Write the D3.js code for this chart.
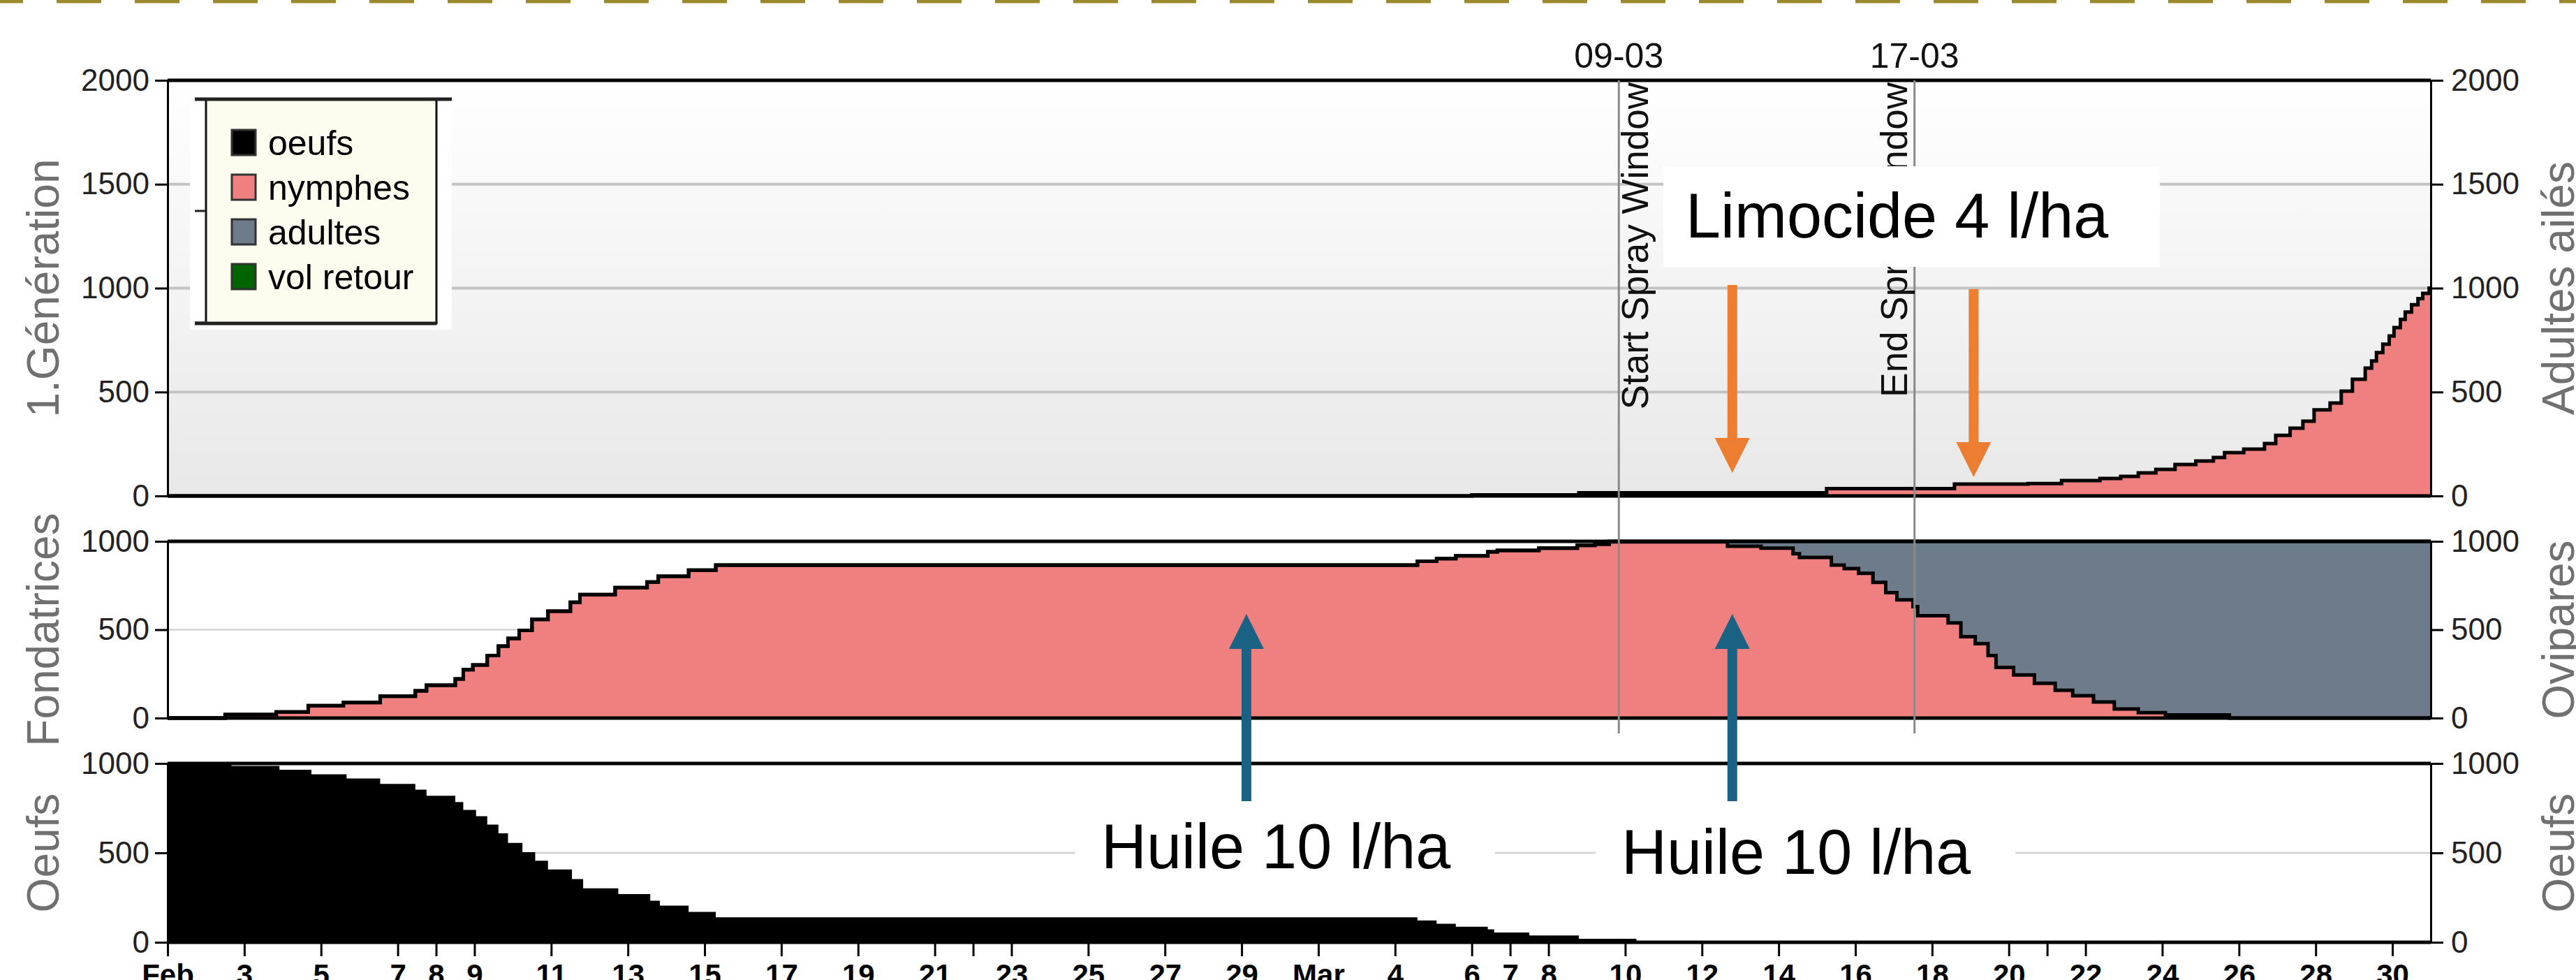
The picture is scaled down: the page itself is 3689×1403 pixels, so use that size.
<!DOCTYPE html>
<html>
<head>
<meta charset="utf-8">
<script src="https://cdn.jsdelivr.net/npm/d3@7"></script>
<style>
  html, body { margin: 0; padding: 0; background: #fff; }
  svg { display: block; }
</style>
</head>
<body>
<svg id="chart" width="3689" height="1403"></svg>
<script>
// ---------------------------------------------------------------
// Aphid development model, Feb–Mar 2024
// ---------------------------------------------------------------

// Eggs still to hatch (bottom panel)
const eggTimes = [
  "2024-02-01 00:00","2024-02-02 16:00","2024-02-03 22:00","2024-02-04 18:00","2024-02-05 16:00",
  "2024-02-06 13:00","2024-02-07 11:00","2024-02-07 18:00","2024-02-08 12:00","2024-02-08 17:00",
  "2024-02-09 01:00","2024-02-09 08:00","2024-02-09 15:00","2024-02-09 21:00","2024-02-10 06:00",
  "2024-02-10 14:00","2024-02-10 22:00","2024-02-11 13:00","2024-02-11 20:00","2024-02-12 18:00",
  "2024-02-13 14:00","2024-02-13 20:00","2024-02-14 14:00","2024-02-15 07:00","2024-03-04 14:00",
  "2024-03-05 02:00","2024-03-05 14:00","2024-03-06 10:00","2024-03-06 14:00","2024-03-07 12:00",
  "2024-03-08 19:00","2024-03-10 07:00","2024-03-13 00:00","2024-03-31 00:00"
];
const eggValues = [
  1000, 986, 965, 939, 916,
  886, 854, 819, 784, 740,
  705, 658, 609, 556, 504,
  456, 407, 354, 302, 270,
  232, 205, 170, 140, 122,
  104, 87, 72, 55, 38,
  20, 7, 0, 0
];

// Fondatrices: nymphs (lower band) and adults (upper band)
const fondTimes = [
  "2024-02-01 00:00","2024-02-02 12:00","2024-02-03 20:00","2024-02-04 16:00","2024-02-05 14:00",
  "2024-02-06 13:00","2024-02-07 11:00","2024-02-07 18:00","2024-02-08 12:00","2024-02-08 17:00",
  "2024-02-08 23:00","2024-02-09 08:00","2024-02-09 15:00","2024-02-09 21:00","2024-02-10 04:00",
  "2024-02-10 12:00","2024-02-10 22:00","2024-02-11 12:00","2024-02-11 18:00","2024-02-12 16:00",
  "2024-02-13 12:00","2024-02-13 19:00","2024-02-14 14:00","2024-02-15 07:00","2024-03-04 14:00",
  "2024-03-05 02:00","2024-03-05 14:00","2024-03-06 10:00","2024-03-06 16:00","2024-03-07 18:00",
  "2024-03-08 18:00","2024-03-09 05:00","2024-03-09 14:00","2024-03-12 16:00","2024-03-13 13:00",
  "2024-03-14 09:00","2024-03-14 13:00","2024-03-15 09:00","2024-03-15 17:00","2024-03-16 02:00",
  "2024-03-16 11:00","2024-03-16 19:00","2024-03-17 02:00","2024-03-17 12:00","2024-03-17 15:00",
  "2024-03-18 10:00","2024-03-18 18:00","2024-03-19 03:00","2024-03-19 11:00","2024-03-19 16:00",
  "2024-03-20 03:00","2024-03-20 16:00","2024-03-21 05:00","2024-03-21 16:00","2024-03-22 05:00",
  "2024-03-22 18:00","2024-03-23 09:00","2024-03-24 02:00","2024-03-25 18:00","2024-03-31 00:00"
];
const fondNymphes = [
  0, 20, 35, 70, 88,
  124, 154, 186, 221, 274,
  300, 354, 407, 451, 496,
  558, 605, 655, 699, 738,
  770, 802, 837, 866, 887,
  902, 918, 941, 949, 961,
  977, 984, 997, 972, 961,
  930, 909, 866, 846, 819,
  768, 709, 669, 630, 579,
  539, 460, 421, 354, 287,
  244, 197, 157, 126, 91,
  51, 31, 18, 0, 0
];
const fondAdultes = [
  0, 0, 0, 0, 0,
  0, 0, 0, 0, 0,
  0, 0, 0, 0, 0,
  0, 0, 0, 0, 0,
  0, 0, 0, 0, 0,
  0, 0, 0, 0, 0,
  0, 0, 3, 28, 39,
  70, 91, 134, 154, 181,
  232, 291, 331, 370, 421,
  461, 540, 579, 646, 713,
  756, 803, 843, 874, 909,
  949, 969, 982, 1000, 1000
];

// First generation nymphs (top panel)
const genTimes = [
  "2024-02-01 00:00","2024-03-06 00:00","2024-03-08 19:00","2024-03-15 06:00","2024-03-18 14:00",
  "2024-03-20 12:00","2024-03-21 09:00","2024-03-22 09:00","2024-03-22 22:00","2024-03-23 09:00",
  "2024-03-23 20:00","2024-03-24 08:00","2024-03-24 21:00","2024-03-25 08:00","2024-03-25 15:00",
  "2024-03-26 03:00","2024-03-26 16:00","2024-03-26 23:00","2024-03-27 08:00","2024-03-27 16:00",
  "2024-03-27 23:00","2024-03-28 09:00","2024-03-28 16:00","2024-03-28 23:00","2024-03-29 07:00",
  "2024-03-29 11:00","2024-03-29 14:00","2024-03-29 18:00","2024-03-29 22:00","2024-03-30 01:00",
  "2024-03-30 05:00","2024-03-30 08:00","2024-03-30 12:00","2024-03-30 16:00","2024-03-30 19:00",
  "2024-03-30 23:00","2024-03-31 00:00"
];
const genNymphes = [
  0, 5, 15, 35, 57,
  60, 74, 84, 94, 111,
  128, 151, 168, 185, 208,
  225, 252, 292, 326, 360,
  414, 447, 504, 561, 615,
  650, 690, 730, 770, 810,
  850, 885, 920, 950, 975,
  1000, 1000
];

// Date axis
const tickDates = [
  "2024-02-01 00:00","2024-02-03 00:00","2024-02-05 00:00","2024-02-07 00:00","2024-02-08 00:00",
  "2024-02-09 00:00","2024-02-11 00:00","2024-02-13 00:00","2024-02-15 00:00","2024-02-17 00:00",
  "2024-02-19 00:00","2024-02-21 00:00","2024-02-22 00:00","2024-02-23 00:00","2024-02-25 00:00",
  "2024-02-27 00:00","2024-02-29 00:00","2024-03-02 00:00","2024-03-04 00:00","2024-03-06 00:00",
  "2024-03-07 00:00","2024-03-08 00:00","2024-03-10 00:00","2024-03-12 00:00","2024-03-14 00:00",
  "2024-03-16 00:00","2024-03-18 00:00","2024-03-20 00:00","2024-03-21 00:00","2024-03-22 00:00",
  "2024-03-24 00:00","2024-03-26 00:00","2024-03-28 00:00","2024-03-30 00:00"
];
const tickLabels = [
  "Feb","3","5","7","8",
  "9","11","13","15","17",
  "19","21","","23","25",
  "27","29","Mar","4","6",
  "7","8","10","12","14",
  "16","18","20","","22",
  "24","26","28","30"
];
const topTicks = [0, 500, 1000, 1500, 2000];
const panelTicks = [0, 500, 1000];

const legendLabels = ["oeufs", "nymphes", "adultes", "vol retour"];
const legendColors = ["#000000", "#f08080", "#6e7b8b", "#006400"];

const sprayDates = ["2024-03-09 20:00", "2024-03-17 13:00"];
const sprayDateLabels = ["09-03", "17-03"];
const sprayTexts = ["Start Spray Window", "End Spray Window"];

const oilDates = ["2024-02-29 03:00", "2024-03-12 19:00"];
const oilLabel = "Huile 10 l/ha";
const limocideDates = ["2024-03-12 19:00", "2024-03-19 02:00"];
const limocideLabel = "Limocide 4 l/ha";

// ---------------------------------------------------------------
const parse = d3.timeParse("%Y-%m-%d %H:%M");
const svg = d3.select("#chart");
const FONT = "'Liberation Sans', Arial, sans-serif";

const x = d3.scaleTime()
  .domain([parse("2024-02-01 00:00"), parse("2024-03-31 00:00")])
  .range([240, 3481]);
const X0 = x.range()[0], X1 = x.range()[1];

const yTop = d3.scaleLinear().domain([0, 2000]).range([710, 115]);
const yMid = d3.scaleLinear().domain([0, 1000]).range([1028, 775]);
const yBot = d3.scaleLinear().domain([0, 1000]).range([1349, 1093]);

const eggs = eggTimes.map((t, i) => ({ t: parse(t), v: eggValues[i] }));
const fond = fondTimes.map((t, i) => ({ t: parse(t), n: fondNymphes[i], a: fondAdultes[i] }));
const gen = genTimes.map((t, i) => ({ t: parse(t), v: genNymphes[i] }));

// top strip of dashes
svg.append("line")
  .attr("x1", 0).attr("x2", 3689).attr("y1", 2.2).attr("y2", 2.2)
  .attr("stroke", "#9a8a2c").attr("stroke-width", 4.5)
  .attr("stroke-dasharray", "64 48").attr("stroke-dashoffset", -81);

// background gradient for the generation panel
const defs = svg.append("defs");
const grad = defs.append("linearGradient").attr("id", "bgTop")
  .attr("x1", 0).attr("x2", 0).attr("y1", 0).attr("y2", 1);
grad.append("stop").attr("offset", "0%").attr("stop-color", "#ffffff");
grad.append("stop").attr("offset", "100%").attr("stop-color", "#e8e8e8");

svg.append("rect")
  .attr("x", X0).attr("y", yTop(2000))
  .attr("width", X1 - X0).attr("height", yTop(0) - yTop(2000))
  .attr("fill", "url(#bgTop)");

// grid lines
svg.append("g").selectAll("line").data([500, 1000, 1500]).join("line")
  .attr("x1", X0).attr("x2", X1)
  .attr("y1", d => yTop(d)).attr("y2", d => yTop(d))
  .attr("stroke", "#c4c4c4").attr("stroke-width", 4);
[yMid, yBot].forEach(s => {
  svg.append("line")
    .attr("x1", X0).attr("x2", X1).attr("y1", s(500)).attr("y2", s(500))
    .attr("stroke", "#d2d2d2").attr("stroke-width", 2.5);
});

// ---- series
const step = d3.curveStepAfter;

// top: first generation nymphs
svg.append("path").datum(gen)
  .attr("fill", "#f08080")
  .attr("d", d3.area().curve(step).x(d => x(d.t)).y0(yTop(0)).y1(d => yTop(d.v)));
svg.append("path").datum(gen)
  .attr("fill", "none").attr("stroke", "#000").attr("stroke-width", 5)
  .attr("d", d3.line().curve(step).x(d => x(d.t)).y(d => yTop(d.v)));

// middle: fondatrices nymphs + adults stacked
svg.append("path").datum(fond)
  .attr("fill", "#f08080")
  .attr("d", d3.area().curve(step).x(d => x(d.t)).y0(yMid(0)).y1(d => yMid(d.n)));
svg.append("path").datum(fond)
  .attr("fill", "#6e7b8b")
  .attr("d", d3.area().curve(step).x(d => x(d.t)).y0(d => yMid(d.n)).y1(d => yMid(d.n + d.a)));
svg.append("path").datum(fond)
  .attr("fill", "none").attr("stroke", "#000").attr("stroke-width", 5)
  .attr("d", d3.line().curve(step).x(d => x(d.t)).y(d => yMid(d.n)));
svg.append("path").datum(fond)
  .attr("fill", "none").attr("stroke", "#000").attr("stroke-width", 5)
  .attr("d", d3.line().curve(step).x(d => x(d.t)).y(d => yMid(d.n + d.a)));

// bottom: eggs
svg.append("path").datum(eggs)
  .attr("fill", "#000")
  .attr("d", d3.area().curve(step).x(d => x(d.t)).y0(yBot(0)).y1(d => yBot(d.v)));

// ---- panel frames
function frame(s, top) {
  const g = svg.append("g").attr("stroke", "#000").attr("fill", "none");
  g.append("line").attr("x1", X0).attr("x2", X1).attr("y1", s(top)).attr("y2", s(top)).attr("stroke-width", 5);
  g.append("line").attr("x1", X0).attr("x2", X1).attr("y1", s(0)).attr("y2", s(0)).attr("stroke-width", 5);
}
frame(yTop, 2000);
frame(yMid, 1000);
frame(yBot, 1000);

// ---- y axes
function styleAxis(g) {
  g.selectAll(".domain").attr("stroke", "#000").attr("stroke-width", 3);
  g.selectAll(".tick line").attr("stroke", "#000").attr("stroke-width", 3);
  g.selectAll(".tick text").attr("fill", "#222").attr("font-family", FONT).attr("font-size", 44);
}
[[yTop, topTicks], [yMid, panelTicks], [yBot, panelTicks]].forEach(([s, tv]) => {
  svg.append("g").attr("transform", `translate(${X0},0)`)
    .call(d3.axisLeft(s).tickValues(tv).tickSize(18).tickSizeOuter(0).tickPadding(8).tickFormat(d3.format("d")))
    .call(styleAxis);
  svg.append("g").attr("transform", `translate(${X1},0)`)
    .call(d3.axisRight(s).tickValues(tv).tickSize(18).tickSizeOuter(0).tickPadding(11).tickFormat(d3.format("d")))
    .call(styleAxis);
});

// ---- x axis
svg.append("g").attr("transform", `translate(0,${yBot(0)})`)
  .call(d3.axisBottom(x).tickValues(tickDates.map(parse)).tickSize(20).tickSizeOuter(0).tickPadding(11)
    .tickFormat((d, i) => tickLabels[i]))
  .call(g => {
    g.select(".domain").remove();
    g.selectAll(".tick line").attr("stroke", "#000").attr("stroke-width", 3);
    g.selectAll(".tick text").attr("fill", "#000").attr("font-family", FONT)
      .attr("font-size", 42).attr("font-weight", "bold");
  });

// ---- axis titles
const titles = [
  ["1.Génération", "Adultes ailés", yTop, 2000],
  ["Fondatrices", "Ovipares", yMid, 1000],
  ["Oeufs", "Oeufs", yBot, 1000]
];
titles.forEach(([l, r, s, top]) => {
  const cy = (s(0) + s(top)) / 2;
  svg.append("text").text(l)
    .attr("transform", `translate(84,${cy}) rotate(-90)`)
    .attr("text-anchor", "middle").attr("font-family", FONT)
    .attr("font-size", 64).attr("fill", "#707070");
  svg.append("text").text(r)
    .attr("transform", `translate(3686,${cy}) rotate(-90)`)
    .attr("text-anchor", "middle").attr("font-family", FONT)
    .attr("font-size", 64).attr("fill", "#707070");
});

// ---- legend
const lg = svg.append("g");
lg.append("rect").attr("x", 272).attr("y", 128).attr("width", 375).attr("height", 344).attr("fill", "#fff");
lg.append("rect").attr("x", 295).attr("y", 142).attr("width", 330).attr("height", 321)
  .attr("fill", "#fdfdef").attr("stroke", "#111").attr("stroke-width", 3);
lg.append("line").attr("x1", 279).attr("x2", 647).attr("y1", 142).attr("y2", 142)
  .attr("stroke", "#222").attr("stroke-width", 5);
lg.append("line").attr("x1", 279).attr("x2", 625).attr("y1", 463).attr("y2", 463)
  .attr("stroke", "#222").attr("stroke-width", 5);
lg.selectAll(".lt").data([302, 462]).join("line")
  .attr("x1", 279).attr("x2", 295).attr("y1", d => d).attr("y2", d => d)
  .attr("stroke", "#222").attr("stroke-width", 3);
const rows = lg.selectAll(".row").data(legendLabels).join("g")
  .attr("transform", (d, i) => `translate(0,${204 + i * 64})`);
rows.append("rect").attr("x", 332).attr("y", -18).attr("width", 34).attr("height", 36)
  .attr("fill", (d, i) => legendColors[i]).attr("stroke", "#333").attr("stroke-width", 3);
rows.append("text").text(d => d).attr("x", 384).attr("y", 18)
  .attr("font-family", FONT).attr("font-size", 50).attr("fill", "#000");

// ---- spray window markers
sprayDates.forEach((t, i) => {
  const xp = x(parse(t));
  svg.append("line").attr("x1", xp).attr("x2", xp).attr("y1", yTop(2000)).attr("y2", 1050)
    .attr("stroke", "#8a8a8a").attr("stroke-width", 3);
  svg.append("text").text(sprayDateLabels[i])
    .attr("x", xp).attr("y", 97).attr("text-anchor", "middle")
    .attr("font-family", FONT).attr("font-size", 50).attr("fill", "#111");
  const bx = i === 0 ? xp + 42 : xp - 11;
  svg.append("text").text(sprayTexts[i])
    .attr("transform", `translate(${bx},118) rotate(-90)`)
    .attr("text-anchor", "end")
    .attr("font-family", FONT).attr("font-size", 53).attr("fill", "#111");
});

// ---- treatment annotations
const ANN = "'Liberation Sans', Arial, sans-serif";
function arrowUp(xc, tipY, baseY, color) {
  svg.append("rect").attr("x", xc - 7).attr("y", tipY + 40).attr("width", 14).attr("height", baseY - tipY - 40)
    .attr("fill", color);
  svg.append("path")
    .attr("d", `M${xc},${tipY} L${xc + 25},${tipY + 50} L${xc - 25},${tipY + 50} Z`)
    .attr("fill", color);
}
function arrowDown(xc, startY, tipY, color) {
  svg.append("rect").attr("x", xc - 7).attr("y", startY).attr("width", 14).attr("height", tipY - startY - 40)
    .attr("fill", color);
  svg.append("path")
    .attr("d", `M${xc},${tipY} L${xc + 25},${tipY - 50} L${xc - 25},${tipY - 50} Z`)
    .attr("fill", color);
}
oilDates.forEach(t => arrowUp(x(parse(t)), 879, 1147, "#1a6283"));
arrowDown(x(parse(limocideDates[0])), 408, 677, "#ed7d31");
arrowDown(x(parse(limocideDates[1])), 414, 683, "#ed7d31");

[[1540, 1165, 601, 115, 1577, 1243], [2285, 1170, 601, 115, 2322, 1251]].forEach(([bx, by, bw, bh, tx, ty]) => {
  svg.append("rect").attr("x", bx).attr("y", by).attr("width", bw).attr("height", bh).attr("fill", "#fff");
  svg.append("text").text(oilLabel).attr("x", tx).attr("y", ty)
    .attr("font-family", ANN).attr("font-size", 90).attr("fill", "#000");
});
svg.append("rect").attr("x", 2382).attr("y", 238).attr("width", 711).attr("height", 144).attr("fill", "#fff");
svg.append("text").text(limocideLabel).attr("x", 2414).attr("y", 340)
  .attr("font-family", ANN).attr("font-size", 90).attr("fill", "#000");
</script>
</body>
</html>
